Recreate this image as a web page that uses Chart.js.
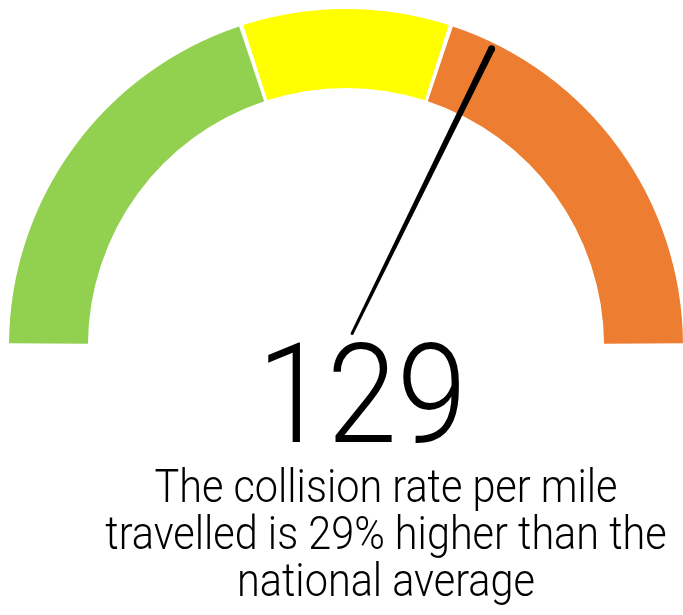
<!DOCTYPE html>
<html lang="en">
<head>
    <meta charset="UTF-8">
    <title>Collision rate gauge</title>
    <script src="https://cdn.jsdelivr.net/npm/chart.js"></script>
    <style>
        body {
            margin: 0;
            background-color: #fff;
            font-family: 'Roboto', 'Open Sans', sans-serif;
        }

        .page {
            position: relative;
            width: 683px;
            height: 615px;
            overflow: hidden;
        }

        .gauge-box {
            position: absolute;
            left: 0;
            top: 0;
            width: 683px;
            height: 360px;
        }

        .value {
            position: absolute;
            left: 362px;
            top: 324px;
            font-size: 140px;
            font-weight: 300;
            line-height: 1;
            white-space: nowrap;
            transform: translateX(-50%) scaleX(0.9);
            color: #000;
        }

        .caption {
            position: absolute;
            left: 386px;
            top: 463px;
            font-size: 46px;
            font-weight: 300;
            line-height: 47px;
            text-align: center;
            white-space: nowrap;
            transform: translateX(-50%) scaleX(0.9);
            color: #000;
        }
    </style>
</head>
<body>
<div class="page">
    <div class="gauge-box"><canvas id="gauge"></canvas></div>
    <div class="value" id="value"></div>
    <div class="caption" id="caption"></div>
</div>

<script>
    // gauge scale 0..200, bands as widths along the scale
    const bandLabels = ['Lower', 'Similar', 'Higher'];
    const bandSizes = [80, 40, 80];
    const bandColors = ['#92d050', '#ffff00', '#ed7d31'];
    const scaleMax = 200;
    const needleValue = 129;
    const captionLines = [
        'The collision rate per mile',
        'travelled is 29% higher than the',
        'national average'
    ];

    document.getElementById('value').textContent = needleValue;
    document.getElementById('caption').innerHTML = captionLines.join('<br>');

    // draws the needle on top of the arcs
    const needlePlugin = {
        id: 'needle',
        afterDatasetsDraw(chart) {
            const arc = chart.getDatasetMeta(0).data[0];
            if (!arc) return;
            const cx = arc.x, cy = arc.y;
            const r = arc.outerRadius;
            const a = Math.PI * (1 + needleValue / scaleMax);
            const cos = Math.cos(a), sin = Math.sin(a);
            const nx = -sin, ny = cos;
            const r0 = 14, r1 = r - 2;
            const w0 = 1.5, w1 = 3.5;
            const bx = cx + r0 * cos, by = cy + r0 * sin;
            const tx = cx + r1 * cos, ty = cy + r1 * sin;
            const ctx = chart.ctx;
            ctx.save();
            ctx.fillStyle = '#000';
            ctx.beginPath();
            ctx.moveTo(bx + nx * w0, by + ny * w0);
            ctx.lineTo(tx + nx * w1, ty + ny * w1);
            ctx.lineTo(tx - nx * w1, ty - ny * w1);
            ctx.lineTo(bx - nx * w0, by - ny * w0);
            ctx.closePath();
            ctx.fill();
            ctx.beginPath();
            ctx.arc(tx, ty, w1, 0, Math.PI * 2);
            ctx.fill();
            ctx.beginPath();
            ctx.arc(bx, by, w0, 0, Math.PI * 2);
            ctx.fill();
            ctx.restore();
        }
    };

    const gauge = new Chart(document.getElementById('gauge'), {
        type: 'doughnut',
        data: {
            labels: bandLabels,
            datasets: [{
                data: bandSizes,
                backgroundColor: bandColors,
                borderWidth: 0,
                spacing: 8
            }]
        },
        options: {
            responsive: true,
            maintainAspectRatio: false,
            animation: false,
            rotation: -90,
            circumference: 180,
            radius: 333,
            cutout: '76.3%',
            layout: {
                padding: { left: 9, right: 0, top: 12, bottom: 13 }
            },
            plugins: {
                legend: { display: false },
                tooltip: { enabled: false }
            }
        },
        plugins: [needlePlugin]
    });
</script>
</body>
</html>
